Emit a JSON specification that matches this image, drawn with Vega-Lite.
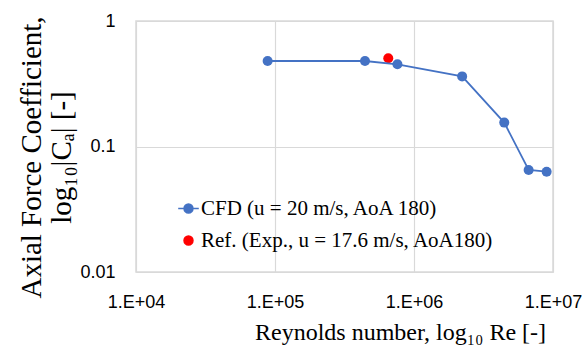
{
  "$schema": "https://vega.github.io/schema/vega-lite/v6.json",
  "autosize": {"type": "none"},
  "padding": {"left": 136, "top": 21, "right": 32, "bottom": 81},
  "width": 417,
  "height": 251,
  "background": "white",
  "config": {
    "view": {"stroke": "#d9d9d9", "strokeWidth": 1.5},
    "axis": {
      "labelFont": "Liberation Sans",
      "labelFontSize": 18,
      "labelColor": "#000000",
      "titleFont": "Liberation Serif",
      "titleFontWeight": "normal",
      "titleColor": "#000000",
      "gridColor": "#d9d9d9",
      "gridWidth": 1.2,
      "ticks": false,
      "domain": false
    }
  },
  "data": {
    "values": [
      {"series": "CFD (u = 20 m/s, AoA 180)", "re": 88500, "ca": 0.48},
      {"series": "CFD (u = 20 m/s, AoA 180)", "re": 444000, "ca": 0.48},
      {"series": "CFD (u = 20 m/s, AoA 180)", "re": 760000, "ca": 0.452},
      {"series": "CFD (u = 20 m/s, AoA 180)", "re": 2220000, "ca": 0.362},
      {"series": "CFD (u = 20 m/s, AoA 180)", "re": 4460000, "ca": 0.155},
      {"series": "CFD (u = 20 m/s, AoA 180)", "re": 6680000, "ca": 0.065},
      {"series": "CFD (u = 20 m/s, AoA 180)", "re": 9000000, "ca": 0.063},
      {"series": "Ref. (Exp., u = 17.6 m/s, AoA180)", "re": 653000, "ca": 0.505}
    ]
  },
  "encoding": {
    "x": {
      "field": "re",
      "type": "quantitative",
      "scale": {"type": "log", "domain": [10000, 10000000], "nice": false},
      "axis": {
        "values": [10000, 100000, 1000000, 10000000],
        "labelExpr": "'1.E+0' + round(log(datum.value) / LN10)",
        "labelPadding": 21,
        "labelFlush": false,
        "title": "Reynolds number, log₁₀ Re [-]",
        "titleFontSize": 24,
        "titleBaseline": "alphabetic",
        "titleAlign": "center",
        "titleX": 264,
        "titleY": 67
      }
    },
    "y": {
      "field": "ca",
      "type": "quantitative",
      "scale": {"type": "log", "domain": [0.01, 1], "nice": false},
      "axis": {
        "values": [0.01, 0.1, 1],
        "format": "~g",
        "labelPadding": 21,
        "labelFlush": false,
        "title": ["Axial Force Coefficient,", "log₁₀|Cₐ| [-]"],
        "titleFontSize": 29,
        "titleLineHeight": 30,
        "titleAngle": 270,
        "titleBaseline": "alphabetic",
        "titleAlign": "center",
        "titleX": -96,
        "titleY": 136
      }
    },
    "color": {
      "field": "series",
      "type": "nominal",
      "scale": {
        "domain": ["CFD (u = 20 m/s, AoA 180)", "Ref. (Exp., u = 17.6 m/s, AoA180)"],
        "range": ["#4472C4", "#FF0000"]
      },
      "legend": {
        "title": null,
        "orient": "none",
        "legendX": 42,
        "legendY": 177,
        "padding": 0,
        "labelFont": "Liberation Serif",
        "labelFontSize": 21,
        "labelColor": "#000000",
        "labelLimit": 0,
        "labelOffset": 2,
        "rowPadding": 10,
        "symbolSize": 80,
        "symbolType": "circle",
        "encode": {
          "symbols": {
            "update": {
              "shape": {"signal": "datum.value === 'CFD (u = 20 m/s, AoA 180)' ? 'M-2.3,0L2.3,0M-1,0A1,1 0 1,1 1,0A1,1 0 1,1 -1,0Z' : 'circle'"},
              "fill": {"signal": "datum.value === 'CFD (u = 20 m/s, AoA 180)' ? '#4472C4' : '#FF0000'"},
              "stroke": {"signal": "datum.value === 'CFD (u = 20 m/s, AoA 180)' ? '#4472C4' : '#FF0000'"},
              "strokeWidth": {"value": 1.5},
              "opacity": {"value": 1}
            }
          }
        }
      }
    }
  },
  "layer": [
    {
      "transform": [{"filter": "datum.series === 'Ref. (Exp., u = 17.6 m/s, AoA180)'"}],
      "mark": {"type": "point", "filled": true, "size": 100, "opacity": 1}
    },
    {
      "transform": [{"filter": "datum.series === 'CFD (u = 20 m/s, AoA 180)'"}],
      "mark": {"type": "line", "strokeWidth": 1.8}
    },
    {
      "transform": [{"filter": "datum.series === 'CFD (u = 20 m/s, AoA 180)'"}],
      "mark": {"type": "point", "filled": true, "size": 100, "opacity": 1}
    }
  ]
}
